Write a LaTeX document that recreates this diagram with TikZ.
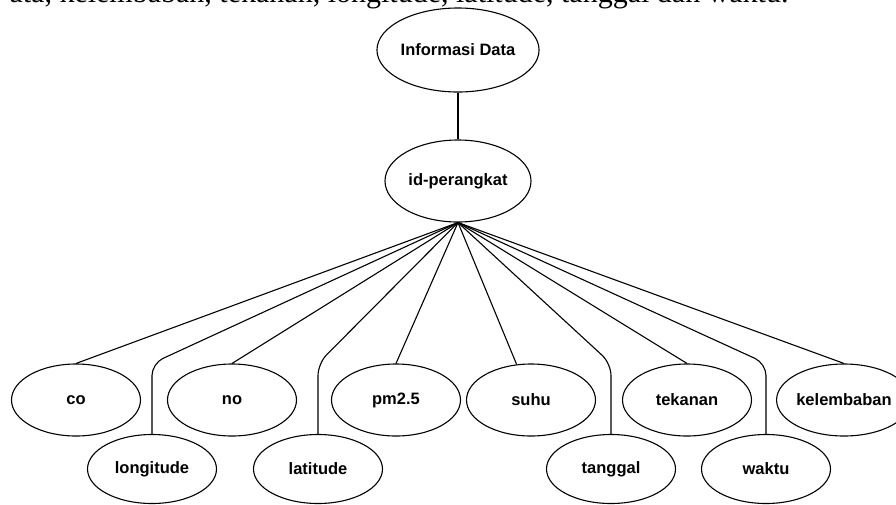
\documentclass[tikz,border=0pt]{standalone}
\usepackage{fontspec}
\setmainfont{Liberation Sans}
\newfontfamily\bodyserif{Liberation Serif}
\usetikzlibrary{shapes.geometric}

\begin{document}
\begin{tikzpicture}[x=1pt, y=-1pt,
  entity/.style={ellipse, draw=black, line width=1.1pt, fill=white, inner sep=0pt, minimum width=142pt, minimum height=84pt, font=\fontsize{16.5}{19}\selectfont\bfseries},
  attribute/.style={entity, minimum width=129pt, minimum height=72pt},
  link/.style={draw=black, line width=1.1pt, rounded corners=12pt}
]
\useasboundingbox (0,0) rectangle (896,504);
\clip (0,0) rectangle (896,504);

\node (caption) [anchor=base west, font=\bodyserif\fontsize{30}{36}\selectfont] at (6,2) {ata, kelembaban, tekanan, longitude, latitude, tanggal dan waktu.};

\node (info) [entity] at (458,50) {Informasi Data};
\node (alat) [entity, minimum width=146pt, minimum height=82pt] at (458,181) {id-perangkat};

\node (co) [attribute] at (76,400) {co};
\node (no) [attribute] at (232,400) {no};
\node (pm) [attribute] at (396,400) {pm2.5};
\node (suhu) [attribute] at (531,400) {suhu};
\node (tekanan) [attribute] at (687,400) {tekanan};
\node (lembab) [attribute] at (844,400) {kelembaban};
\node (longi) [attribute, minimum height=69pt] at (152,469) {longitude};
\node (lati) [attribute, minimum height=69pt] at (318,469) {latitude};
\node (tanggal) [attribute, minimum height=69pt] at (611,469) {tanggal};
\node (waktu) [attribute, minimum height=69pt] at (766,469) {waktu};

\draw [link] (info) -- (alat);
\draw [link] (alat.south) -- (co.north);
\draw [link] (alat.south) -- (longi.north |- co.north) -- (longi.north);
\draw [link] (alat.south) -- (no.north);
\draw [link] (alat.south) -- (lati.north |- co.north) -- (lati.north);
\draw [link] (alat.south) -- (pm.north);
\draw [link] (alat.south) -- (suhu.112);
\draw [link] (alat.south) -- (tanggal.north |- tekanan.north) -- (tanggal.north);
\draw [link] (alat.south) -- (tekanan.north);
\draw [link] (alat.south) -- (waktu.north |- tekanan.north) -- (waktu.north);
\draw [link] (alat.south) -- (lembab.north);

\end{tikzpicture}
\end{document}
